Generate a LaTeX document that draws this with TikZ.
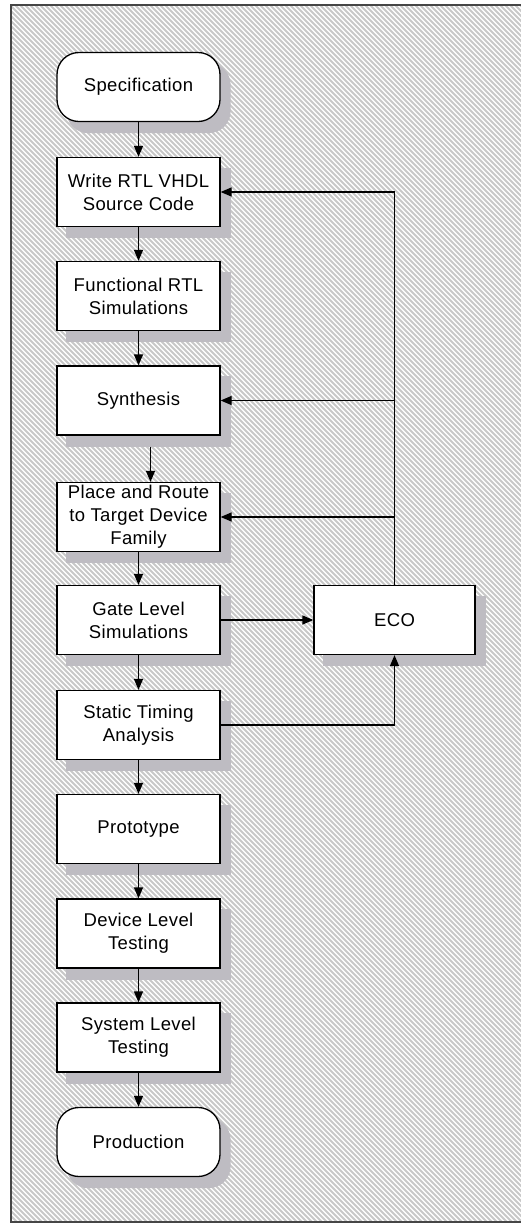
\documentclass[tikz,border=0pt]{standalone}
\usepackage{fontspec}
\setmainfont{Liberation Sans}[LetterSpace=2]
\usetikzlibrary{arrows.meta}
\definecolor{hatchgray}{RGB}{200,200,200}
\definecolor{shadegray}{RGB}{190,188,194}
\definecolor{framegray}{RGB}{70,70,70}
\pgfdeclarelayer{panel}
\pgfdeclarelayer{shade}
\pgfsetlayers{panel,shade,main}
\tikzset{
  stepbox/.style={draw=black, line width=1.3pt, fill=white,
    minimum width=163pt, minimum height=69pt, inner sep=0pt,
    align=center, font=\fontsize{18.5}{23}\selectfont},
  termbox/.style={stepbox, rounded corners=22pt},
  arr/.style={draw=black, line width=1.3pt,
    -{Triangle[length=11pt,width=9pt]}},
  wire/.style={draw=black, line width=1.3pt},
  hatch/.style={draw=hatchgray, line width=1.8pt},
  shadefill/.style={fill=shadegray, draw=none}
}
\begin{document}
\begin{tikzpicture}[x=1pt, y=-1pt]
\useasboundingbox (0,0) rectangle (520,1224);
% hatched panel
\begin{pgfonlayer}{panel}
\fill[white] (11,5) rectangle (530,1222);
\begin{scope}
  \clip (11,5) rectangle (530,1222);
  \foreach \i in {-1235,-1230,...,535} {
    \draw[hatch] (\i,0) -- ++(1230,1230);
  }
\end{scope}
\draw[framegray, line width=1.5pt] (530,5) -- (11,5) -- (11,1222) -- (530,1222);
\end{pgfonlayer}

% main flow
\node[termbox] (spec)  at (138.5,87)    {Specification};
\node[stepbox] (write) at (138.5,192)   {Write RTL VHDL\\Source Code};
\node[stepbox] (func)  at (138.5,296)   {Functional RTL\\Simulations};
\node[stepbox] (synth) at (138.5,400.5) {Synthesis};
\node[stepbox] (place) at (138.5,517)   {Place and Route\\to Target Device\\Family};
\node[stepbox] (gate)  at (138.5,620)   {Gate Level\\Simulations};
\node[stepbox] (sta)   at (138.5,725)   {Static Timing\\Analysis};
\node[stepbox] (proto) at (138.5,829)   {Prototype};
\node[stepbox] (dev)   at (138.5,933.5) {Device Level\\Testing};
\node[stepbox] (sys)   at (138.5,1037.5){System Level\\Testing};
\node[termbox] (prod)  at (138.5,1142)  {Production};
\node[stepbox, minimum width=161pt] (eco) at (394.5,620) {ECO};

% drop shadows behind the boxes
\begin{pgfonlayer}{shade}
\foreach \n in {write,func,synth,place,gate,sta,proto,dev,sys,eco} {
  \fill[shadefill] ([shift={(10,11)}]\n.south west) rectangle ([shift={(10,11)}]\n.north east);
}
\foreach \n in {spec,prod} {
  \fill[shadefill, rounded corners=22pt] ([shift={(10,11)}]\n.south west) rectangle ([shift={(10,11)}]\n.north east);
}
\end{pgfonlayer}

\draw[arr] (spec) -- (write);
\draw[arr] (write) -- (func);
\draw[arr] (func) -- (synth);
\draw[arr] ([xshift=12pt,yshift=-11pt]synth.south) -- ([xshift=12pt]place.north);
\draw[arr] (place) -- (gate);
\draw[arr] (gate) -- (sta);
\draw[arr] (sta) -- (proto);
\draw[arr] (proto) -- (dev);
\draw[arr] (dev) -- (sys);
\draw[arr] (sys) -- (prod);

% ECO loop
\coordinate (bus) at (eco.north |- write.east);
\draw[wire] (eco.north) -- (bus);
\draw[arr] (bus) -- (write.east);
\draw[arr] (eco.north |- synth.east) -- (synth.east);
\draw[arr] (eco.north |- place.east) -- (place.east);
\draw[arr] (gate.east) -- (eco.west);
\draw[arr] (sta.east) -| (eco.south);
\end{tikzpicture}
\end{document}
